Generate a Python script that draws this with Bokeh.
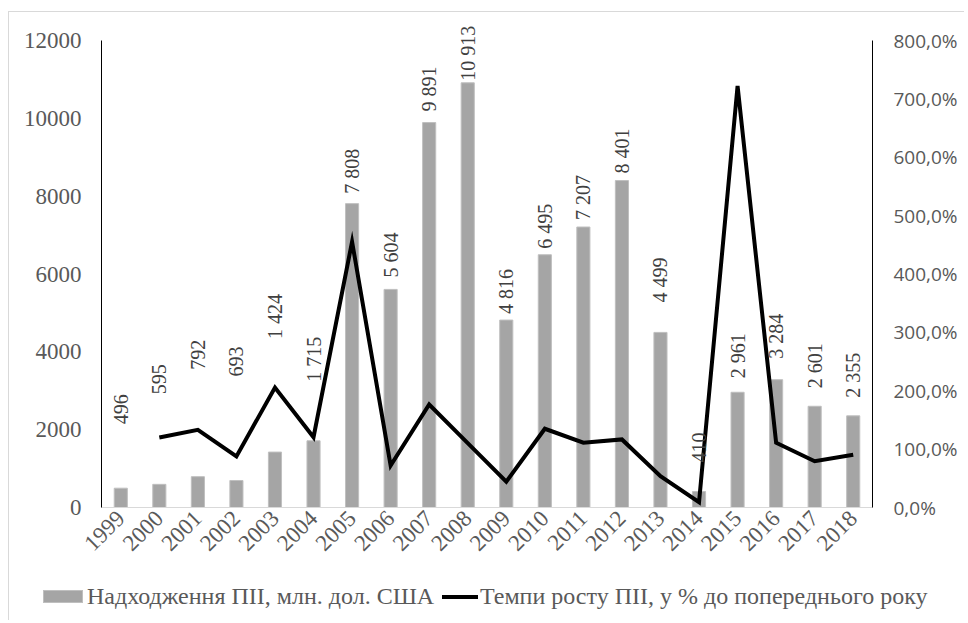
import math
from bokeh.plotting import figure
from bokeh.layouts import column
from bokeh.models import (ColumnDataSource, Range1d, FactorRange, LinearAxis, FixedTicker,
                          CustomJSTickFormatter, LabelSet, Div)
from bokeh.embed import file_html
from bokeh.resources import INLINE

# ---- data ----
years = ["1999", "2000", "2001", "2002", "2003", "2004", "2005", "2006", "2007", "2008",
         "2009", "2010", "2011", "2012", "2013", "2014", "2015", "2016", "2017", "2018"]
fdi = [496, 595, 792, 693, 1424, 1715, 7808, 5604, 9891, 10913,
       4816, 6495, 7207, 8401, 4499, 410, 2961, 3284, 2601, 2355]
growth = [float("nan"), 120.0, 133.1, 87.5, 205.5, 120.4, 455.3, 71.8, 176.5, 110.3,
          44.1, 134.9, 111.0, 116.6, 53.6, 9.1, 722.2, 110.9, 79.2, 90.5]
left_ticks = [0, 2000, 4000, 6000, 8000, 10000, 12000]
right_ticks = [0, 100, 200, 300, 400, 500, 600, 700, 800]
left_max = 12000
right_max = 800
bar_name = "Надходження ПІІ, млн. дол. США"
line_name = "Темпи росту ПІІ, у % до попереднього року"

# label gaps above bar tops (pixels) - styling only
label_gap = [64, 90, 107, 104, 113, 59, 10, 12, 11, 2, 6, 6, 7, 7, 30, 29, 14, 21, 18, 18]

labels = [f"{v:,}".replace(",", " ") for v in fdi]
src = ColumnDataSource(dict(x=years, fdi=fdi, growth=growth, lab=labels, gap=label_gap))

serif = "Liberation Serif"
sans = "Open Sans"
axis_col = "#595959"
bar_fill = "#a5a5a5"
bar_line = "#bfbfbf"

W = 955
H_MAIN = 568
H_LEG = 40
axis_px = 467          # pixel height of the 0..max span
extra_top_px = 26      # frame extends above the top tick (room for labels)

p = figure(width=W, height=H_MAIN, x_range=FactorRange(*years, range_padding=0),
           y_range=Range1d(0, left_max * (1 + extra_top_px / axis_px)),
           output_backend="svg", toolbar_location=None,
           min_border_left=92, min_border_right=92, min_border_top=28 - extra_top_px,
           min_border_bottom=H_MAIN - 495)
p.extra_y_ranges = {"pct": Range1d(0, right_max * (1 + extra_top_px / axis_px))}
p.outline_line_color = None
p.xgrid.visible = False
p.ygrid.visible = False

# left axis
ya = p.yaxis[0]
ya.ticker = FixedTicker(ticks=left_ticks)
ya.bounds = (0, left_max)
ya.axis_line_color = "black"
ya.major_tick_line_color = None
ya.minor_tick_line_color = None
ya.major_tick_out = 0
ya.major_label_text_font = serif
ya.major_label_text_font_size = "23px"
ya.major_label_text_color = axis_col
ya.major_label_standoff = 20
ya.formatter.use_scientific = False

# right axis
ra = LinearAxis(y_range_name="pct", ticker=FixedTicker(ticks=right_ticks), bounds=(0, right_max),
                formatter=CustomJSTickFormatter(code="return tick.toFixed(1).replace('.', ',') + '%';"))
ra.axis_line_color = "black"
ra.major_tick_line_color = None
ra.minor_tick_line_color = None
ra.major_tick_out = 0
ra.major_label_text_font = sans
ra.major_label_text_font_size = "19px"
ra.major_label_text_color = axis_col
ra.major_label_standoff = 21
p.add_layout(ra, "right")

# x axis
xa = p.xaxis[0]
xa.axis_line_color = "#d9d9d9"
xa.major_tick_line_color = None
xa.minor_tick_line_color = None
xa.major_tick_out = 0
xa.major_label_orientation = math.pi / 4
xa.major_label_text_font = serif
xa.major_label_text_font_size = "23px"
xa.major_label_text_color = axis_col
xa.major_label_standoff = 7

p.vbar(x="x", top="fdi", width=0.34, source=src, fill_color=bar_fill,
       line_color=bar_line, line_width=1)
p.line(x="x", y="growth", source=src, y_range_name="pct", line_color="black",
       line_width=4, line_join="miter")

lbl = LabelSet(x="x", y="fdi", text="lab", source=src, angle=math.pi / 2,
               text_align="left", text_baseline="middle", y_offset="gap",
               text_font=sans, text_font_size="20px", text_color="#404040")
p.add_layout(lbl)

# ---- legend strip (HTML) ----
font_css = f"font-family:'{serif}';font-size:24px;color:{axis_col};white-space:nowrap;"
legend_html = (
    f'<div style="position:relative;width:{W}px;height:{H_LEG}px;{font_css}">'
    f'<span style="position:absolute;left:34px;top:10px;width:40px;height:13px;'
    f'background:{bar_fill};border:1px solid {bar_line};box-sizing:border-box;"></span>'
    f'<span style="position:absolute;left:78px;top:0px;line-height:33px;">{bar_name}</span>'
    f'<span style="position:absolute;left:433px;top:15px;width:36px;height:4px;background:black;"></span>'
    f'<span style="position:absolute;left:471px;top:0px;line-height:33px;">{line_name}</span>'
    f'</div>'
)
leg = Div(text=legend_html, width=W, height=H_LEG, margin=0)

layout = column(p, leg, spacing=0, margin=(11, 0, 0, 8),
                styles={"border-top": "1px solid #d9d9d9", "border-left": "1px solid #d9d9d9"})

open("out.html", "w").write(file_html(layout, INLINE))
